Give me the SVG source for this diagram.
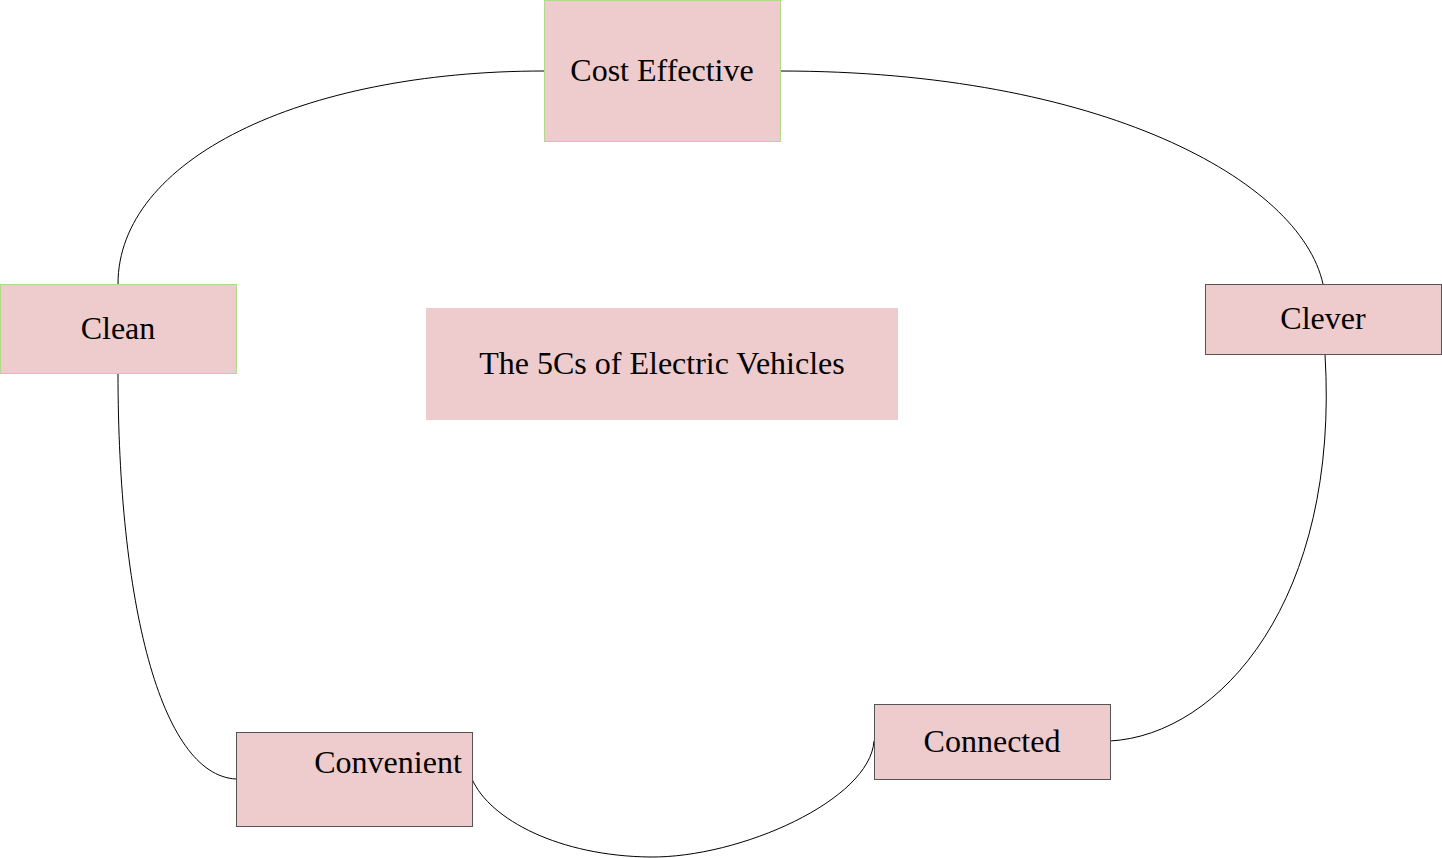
<svg xmlns="http://www.w3.org/2000/svg" width="1442" height="858" viewBox="0 0 1442 858">
<style>
.n{fill:#eecbcc}
.g{stroke:#b3d98b;stroke-width:1}
.d{stroke:#555;stroke-width:1}
.t{font-family:"Liberation Serif",serif;font-size:32px;fill:#000;text-anchor:middle}
.c{fill:none;stroke:#000;stroke-width:1}
</style>
<rect width="1442" height="858" fill="#fff"/>
<g id="connectors">
<path class="c" d="M544,71 C300,71 118,160 118,284"/>
<path class="c" d="M780,71 C1100,71 1300,180 1323,284"/>
<path class="c" d="M1325,354 C1340,600 1220,735 1110,741"/>
<path class="c" d="M874,741 C870,800 740,858 650,857 C560,856 490,820 472,779"/>
<path class="c" d="M118,373 C118,600 160,775 236,779"/>
</g>
<g id="cost"><rect class="n g" x="544.5" y="0.5" width="236" height="141"/><text class="t" x="662" y="81">Cost Effective</text></g>
<g id="clean"><rect class="n g" x="0.5" y="284.5" width="236" height="89"/><text class="t" x="118" y="339">Clean</text></g>
<g id="title"><rect class="n" x="426" y="308" width="472" height="112"/><text class="t" x="662" y="374">The 5Cs of Electric Vehicles</text></g>
<g id="clever"><rect class="n d" x="1205.5" y="284.5" width="236" height="70"/><text class="t" x="1323" y="329">Clever</text></g>
<g id="connected"><rect class="n d" x="874.5" y="704.5" width="236" height="75"/><text class="t" x="992" y="752">Connected</text></g>
<g id="convenient"><rect class="n d" x="236.5" y="732.5" width="236" height="94"/><text class="t" x="388" y="773">Convenient</text></g>
</svg>
